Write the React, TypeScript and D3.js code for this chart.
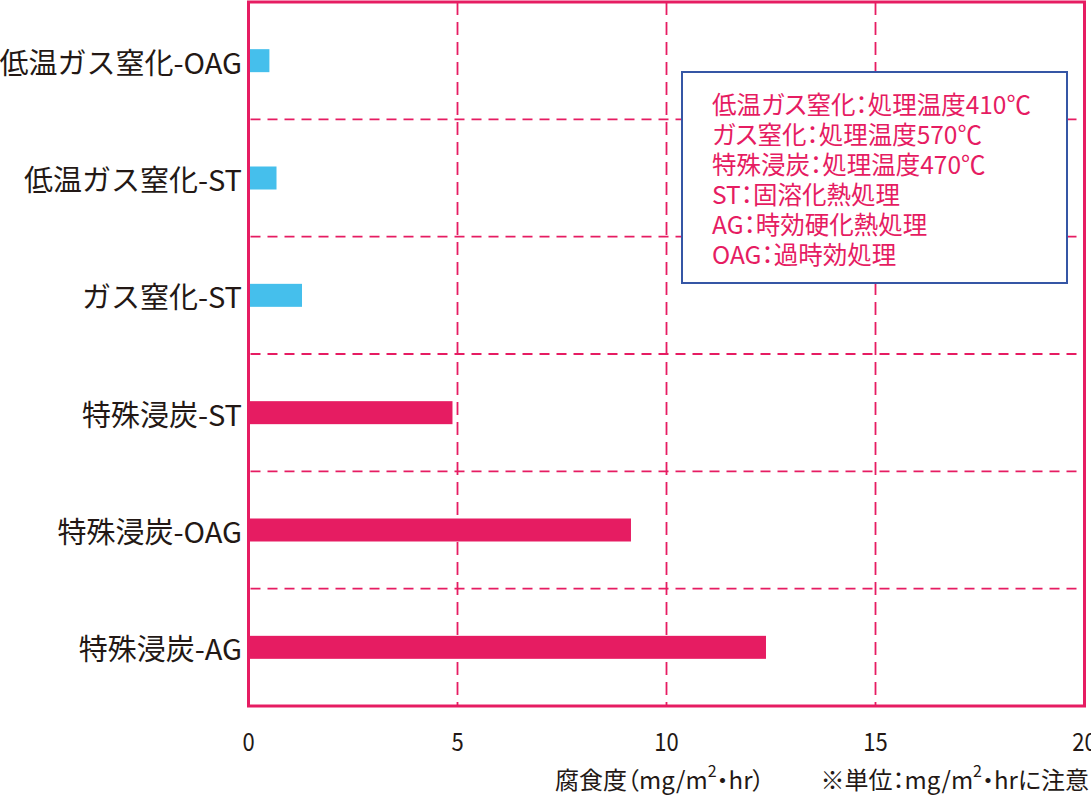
import React from 'react';
import * as d3 from 'd3';

const categories = ['低温ガス窒化-OAG', '低温ガス窒化-ST', 'ガス窒化-ST', '特殊浸炭-ST', '特殊浸炭-OAG', '特殊浸炭-AG'];
const values = [0.5, 0.67, 1.28, 4.88, 9.15, 12.38];
const groups = ['nitride', 'nitride', 'nitride', 'carburize', 'carburize', 'carburize'];
const xTicks = [0, 5, 10, 15, 20];
const legendLines = [
  '低温ガス窒化：処理温度410℃',
  'ガス窒化：処理温度570℃',
  '特殊浸炭：処理温度470℃',
  'ST：固溶化熱処理',
  'AG：時効硬化熱処理',
  'OAG：過時効処理',
];

const PINK = '#e61c62';
const BLUE = '#45bfec';
const TEXT = '#231815';
const FONT = '"Noto Sans CJK JP", "Noto Sans", sans-serif';
const PALT = { fontFeatureSettings: '"palt"' } as React.CSSProperties;

export default function App() {
  const W = 1091;
  const H = 795;
  const left = 248.5;
  const right = 1084.5;
  const top = 2;
  const bottom = 706;

  const x = d3.scaleLinear().domain([0, 20]).range([left, right]);
  const y = d3
    .scaleBand<string>()
    .domain(categories)
    .range([top, bottom])
    .paddingInner(0.804)
    .paddingOuter(0.402);
  const step = y.step();
  const boundaries = d3.range(1, categories.length).map((i) => top + i * step);
  const colorOf = d3.scaleOrdinal<string, string>().domain(['nitride', 'carburize']).range([BLUE, PINK]);

  return (
    <svg
      width={W}
      height={H}
      style={{ position: 'absolute', left: 0, top: 0, background: '#fff' }}
      fontFamily={FONT}
    >
      <rect x={0} y={0} width={W} height={H} fill="#fff" />
      {boundaries.map((b, i) => (
        <line
          key={'h' + i}
          x1={left + 2}
          x2={right}
          y1={b}
          y2={b}
          stroke={PINK}
          strokeWidth={1.8}
          strokeDasharray="10 7"
        />
      ))}
      {xTicks.slice(1, -1).map((t) => (
        <line
          key={'v' + t}
          x1={x(t)}
          x2={x(t)}
          y1={top}
          y2={bottom}
          stroke={PINK}
          strokeWidth={1.8}
          strokeDasharray="13 7"
        />
      ))}
      {categories.map((c, i) => (
        <rect
          key={c}
          x={x(0)}
          y={y(c)}
          width={x(values[i]) - x(0)}
          height={y.bandwidth()}
          fill={colorOf(groups[i])}
        />
      ))}
      <rect
        x={left}
        y={top}
        width={right - left}
        height={bottom - top}
        fill="none"
        stroke={PINK}
        strokeWidth={3}
      />
      {categories.map((c) => (
        <text
          key={'l' + c}
          x={242}
          y={(y(c) as number) + y.bandwidth() / 2}
          textAnchor="end"
          dominantBaseline="central"
          fontSize={29}
          fill={TEXT}
        >
          {c}
        </text>
      ))}
      {xTicks.map((t) => (
        <text
          key={'t' + t}
          transform={`translate(${x(t)},740) scale(0.88,1)`}
          textAnchor="middle"
          dominantBaseline="central"
          fontSize={25}
          fill={TEXT}
        >
          {t}
        </text>
      ))}
      <text x={555} y={778} dominantBaseline="central" fontSize={24} fill={TEXT} style={PALT}>
        腐食度（mg/m
        <tspan fontSize={16} dy={-8}>
          2
        </tspan>
        <tspan dy={8}>・hr）</tspan>
      </text>
      <text x={1089} y={778} textAnchor="end" dominantBaseline="central" fontSize={24} fill={TEXT} style={PALT}>
        ※単位：mg/m
        <tspan fontSize={16} dy={-8}>
          2
        </tspan>
        <tspan dy={8}>・hrに注意</tspan>
      </text>
      <rect x={682} y={72} width={385} height={211} fill="#fff" stroke="#3556a5" strokeWidth={2} />
      {legendLines.map((l, i) => (
        <text
          key={'g' + i}
          x={712}
          y={103 + i * 30}
          dominantBaseline="central"
          fontSize={24.5}
          fill={PINK}
          style={PALT}
        >
          {l}
        </text>
      ))}
    </svg>
  );
}
